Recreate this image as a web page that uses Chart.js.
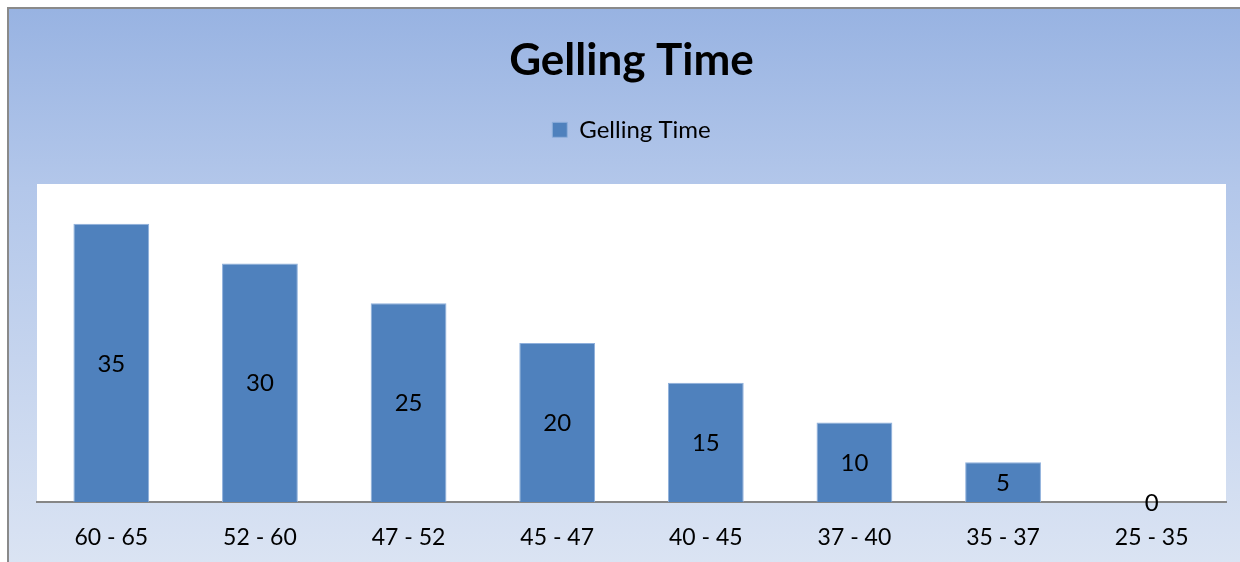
<!DOCTYPE html>
<html>
<head>
<meta charset="utf-8">
<script src="https://cdn.jsdelivr.net/npm/chart.js@4.4.1/dist/chart.umd.min.js"></script>
<style>
  html, body { margin: 0; padding: 0; background: #fff; overflow: hidden; }
  #box {
    position: absolute; left: 7px; top: 7px; width: 1240px; height: 560px;
    border-left: 2px solid #8a8a8a; border-top: 2px solid #8a8a8a;
    background: linear-gradient(to bottom, #98b3e2 0%, #b3c7ea 32%, #dbe4f3 100%);
  }
  #wrap { position: absolute; left: 0; top: 0; width: 1231px; height: 553px; }
</style>
</head>
<body>
<div id="box"><div id="wrap"><canvas id="gelChart"></canvas></div></div>
<script>
const categories = ["60 - 65", "52 - 60", "47 - 52", "45 - 47", "40 - 45", "37 - 40", "35 - 37", "25 - 35"];
const gellingTime = [35, 30, 25, 20, 15, 10, 5, 0];

const FONT = "Lato";

// white plot area + value labels in the middle of each bar
const plotBg = {
  id: "plotBg",
  beforeDraw(chart) {
    const a = chart.chartArea, ctx = chart.ctx;
    ctx.save();
    ctx.fillStyle = "#ffffff";
    ctx.fillRect(a.left, a.top, a.right - a.left, a.bottom - a.top);
    ctx.restore();
  },
  afterDatasetsDraw(chart) {
    const ctx = chart.ctx;
    const meta = chart.getDatasetMeta(0);
    ctx.save();
    ctx.font = "24px " + FONT;
    ctx.fillStyle = "#000";
    ctx.textAlign = "center";
    ctx.textBaseline = "middle";
    meta.data.forEach((bar, i) => {
      const y = (bar.y + bar.base) / 2;
      ctx.fillText(String(gellingTime[i]), bar.x, y + 1);
    });
    ctx.restore();
  }
};

const chart = new Chart("gelChart", {
  type: "bar",
  data: {
    labels: categories,
    datasets: [{
      label: "Gelling Time",
      data: gellingTime,
      backgroundColor: "#4f81bd",
      borderColor: "#8fb0dc",
      borderWidth: 1,
      categoryPercentage: 1,
      barPercentage: 0.51,
    }],
  },
  options: {
    responsive: true,
    maintainAspectRatio: false,
    animation: false,
    layout: { padding: { left: 28, right: 14, top: 0, bottom: 8 } },
    plugins: {
      title: {
        display: true,
        text: "Gelling Time",
        color: "#000",
        font: { family: FONT, size: 44, weight: "bold" },
        padding: { top: 25, bottom: 23 },
      },
      // empty spacer below the legend
      subtitle: {
        display: true,
        text: " ",
        weight: 500,
        font: { size: 1 },
        padding: { top: 0, bottom: 31 },
      },
      legend: {
        display: true,
        labels: {
          color: "#000",
          font: { family: FONT, size: 24 },
          boxWidth: 15,
          boxHeight: 15,
          padding: 8,
        },
      },
      tooltip: { enabled: false },
    },
    scales: {
      x: {
        grid: { display: false, drawTicks: false },
        border: { display: true, color: "#868686", width: 2 },
        ticks: { color: "#000", font: { family: FONT, size: 23 }, padding: 22 },
        afterFit(scale) { scale.height = 52; },
      },
      y: {
        display: false,
        min: 0,
        max: 40,
      },
    },
  },
  plugins: [plotBg],
});
</script>
</body>
</html>
